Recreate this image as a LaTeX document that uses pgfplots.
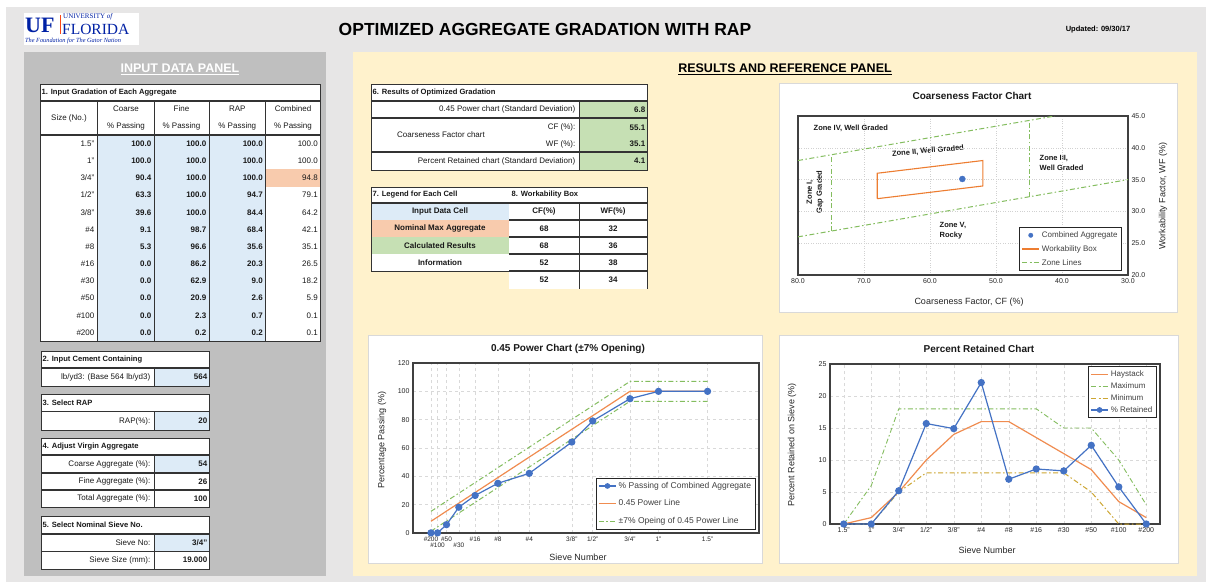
\documentclass[border=0pt]{standalone}
\usepackage{fontspec}
\setmainfont{Liberation Sans}
\newfontfamily\serifuf{Liberation Serif}
\usepackage{pgfplots}
\pgfplotsset{compat=1.18}

\definecolor{pagegray}{HTML}{E7E6E6}
\definecolor{panelgray}{HTML}{BFBFBF}
\definecolor{panelyellow}{HTML}{FFF2CC}
\definecolor{cellblue}{HTML}{DDEBF7}
\definecolor{cellorange}{HTML}{F8CBAD}
\definecolor{cellgreen}{HTML}{C6E0B4}
\definecolor{xlblue}{HTML}{4472C4}
\definecolor{xlorange}{HTML}{ED7D31}
\definecolor{lineorange}{HTML}{F08C50}
\definecolor{xlgreen}{HTML}{84BD5F}
\definecolor{xlgold}{HTML}{CDA632}
\definecolor{ufblue}{HTML}{0021A5}
\definecolor{uforange}{HTML}{FA4616}
\definecolor{framegray}{HTML}{D9D9D9}

\tikzset{
  tx/.style={inner sep=0.5pt, text=black!90, font=\fontsize{8}{9.5}\selectfont},
  tb/.style={tx, font=\fontsize{8}{9.5}\selectfont\bfseries},
  th/.style={tx, font=\fontsize{7.6}{9}\selectfont\bfseries},
  ln/.style={line width=0.7pt, black!80},
  thk/.style={line width=1.3pt, black!80},
  zone/.style={draw=xlgreen, color=xlgreen, line width=1pt, dash pattern=on 5pt off 2.5pt on 1.5pt off 2.5pt},
  zl/.style={inner sep=0.5pt, font=\fontsize{7.5}{10}\selectfont\bfseries, text=black!90},
  lab/.style={inner sep=0.5pt, font=\fontsize{9}{10}\selectfont, text=black!85},
  ttl/.style={inner sep=0.5pt, font=\fontsize{10}{12}\selectfont\bfseries, text=black!90},
}

\pgfplotsset{
  xlchart/.style={
    scale only axis, anchor=south west,
    axis line style={black!75, line width=1.3pt},
    major tick length=0pt,
    tick style={draw=none},
    ticklabel style={font=\fontsize{7}{8}\selectfont, text=black!85},
    /pgf/number format/assume math mode=true,
    grid=major,
    major grid style={black!15, dashed, line width=0.4pt},
    legend style={font=\fontsize{8}{9}\selectfont, draw=black!85, line width=1pt,
      cells={anchor=west}, inner sep=2pt, text=black!75},
  },
  orangeleg/.style={legend image code/.code={%
    \draw[draw=lineorange, line width=1.5pt, solid] (0cm,0cm) -- (0.6cm,0cm);}},
}

\begin{document}
\begin{tikzpicture}[x=1pt,y=1pt]
\path[use as bounding box] (0,0) rectangle (1206pt,-582pt);

\begin{scope}[yscale=-1]
% page and panels
\fill[white] (0,0) rectangle (1206,582);
\fill[pagegray] (6,7) rectangle (1206,582);
\fill[panelgray] (24,52) rectangle (326,576);
\fill[panelyellow] (353,52) rectangle (1197,576);

% header
\fill[white] (24,13) rectangle (139,45);
\node[anchor=west, inner sep=0, text=ufblue, font=\serifuf\bfseries\fontsize{22}{22}\selectfont] at (25,25.5) {UF};
\draw[uforange, line width=1pt] (60,15) -- (60,34);
\node[anchor=west, inner sep=0, text=ufblue, font=\serifuf\fontsize{7}{7}\selectfont] at (63,17) {UNIVERSITY \textit{of}};
\node[anchor=west, inner sep=0, text=ufblue, font=\serifuf\fontsize{15.5}{15.5}\selectfont] at (62,29) {FLORIDA};
\node[anchor=west, inner sep=0, text=ufblue, font=\serifuf\itshape\fontsize{6.3}{7}\selectfont] at (25,41) {The Foundation for The Gator Nation};
\node[inner sep=0, font=\bfseries\fontsize{17.5}{18}\selectfont] at (545,29) {OPTIMIZED AGGREGATE GRADATION WITH RAP};
\node[inner sep=0, font=\bfseries\fontsize{7.5}{8}\selectfont] at (1098,30) {Updated: 09/30/17};

\node[inner sep=0, text=white, font=\bfseries\fontsize{12.5}{13}\selectfont] at (180,69) {\underline{INPUT DATA PANEL}};
\node[inner sep=0, font=\bfseries\fontsize{12.5}{13}\selectfont] at (785,69) {\underline{RESULTS AND REFERENCE PANEL}};

% table 1
\fill[white] (40,84) rectangle (320,341);
\fill[cellblue] (97.7,135) rectangle (265.7,341);
\fill[cellorange] (265.7,169.3) rectangle (320,186.5);
\draw[ln] (40,84) rectangle (320,341);
\draw[thk] (40,101) -- (320,101);
\draw[thk] (40,135) -- (320,135);
\foreach \x in {97.7,154,209,265.7} \draw[ln] (\x,101) -- (\x,341);
\node[th, anchor=west] at (41,92.5) {1. Input Gradation of Each Aggregate};
\node[tx] at (69,118) {Size (No.)};
\foreach \x/\h in {126/Coarse, 181.5/Fine, 237.3/RAP, 293/Combined} {
  \node[tx] at (\x,108.5) {\h};
  \node[tx] at (\x,126) {\% Passing};
}
\foreach \s/\c/\f/\r/\m [count=\i from 0] in {
  {1.5"}/100.0/100.0/100.0/100.0,
  {1"}/100.0/100.0/100.0/100.0,
  {3/4"}/90.4/100.0/100.0/94.8,
  {1/2"}/63.3/100.0/94.7/79.1,
  {3/8"}/39.6/100.0/84.4/64.2,
  {\#4}/9.1/98.7/68.4/42.1,
  {\#8}/5.3/96.6/35.6/35.1,
  {\#16}/0.0/86.2/20.3/26.5,
  {\#30}/0.0/62.9/9.0/18.2,
  {\#50}/0.0/20.9/2.6/5.9,
  {\#100}/0.0/2.3/0.7/0.1,
  {\#200}/0.0/0.2/0.2/0.1} {
  \pgfmathsetmacro\y{143.6+\i*17.17}
  \node[tx, anchor=east] at (95,\y) {\s};
  \node[tb, anchor=east] at (152,\y) {\c};
  \node[tb, anchor=east] at (207,\y) {\f};
  \node[tb, anchor=east] at (263.5,\y) {\r};
  \node[tx, anchor=east] at (318.5,\y) {\m};
}

% table 2
\fill[white] (41,351) rectangle (209,386);
\fill[cellblue] (154,368) rectangle (209,386);
\draw[ln] (41,351) rectangle (209,386);
\draw[thk] (41,368) -- (209,368);
\draw[ln] (154,368) -- (154,386);
\node[th, anchor=west] at (42,359.5) {2. Input Cement Containing};
\node[tx, anchor=east] at (151,377) {lb/yd3: (Base 564 lb/yd3)};
\node[tb, anchor=east] at (208,377) {564};

% table 3
\fill[white] (41,394) rectangle (209,430);
\fill[cellblue] (154,411.5) rectangle (209,430);
\draw[ln] (41,394) rectangle (209,430);
\draw[thk] (41,411.5) -- (209,411.5);
\draw[ln] (154,411.5) -- (154,430);
\node[th, anchor=west] at (42,403) {3. Select RAP};
\node[tx, anchor=east] at (151,421) {RAP(\%):};
\node[tb, anchor=east] at (208,421) {20};

% table 4
\fill[white] (41,438) rectangle (209,507);
\fill[cellblue] (154,455) rectangle (209,473);
\draw[ln] (41,438) rectangle (209,507);
\draw[thk] (41,455) -- (209,455);
\draw[thk] (41,473) -- (209,473);
\draw[thk] (41,490) -- (209,490);
\draw[ln] (154,455) -- (154,507);
\node[th, anchor=west] at (42,446.5) {4. Adjust Virgin Aggregate};
\node[tx, anchor=east] at (151,464) {Coarse Aggregate (\%):};
\node[tb, anchor=east] at (208,464) {54};
\node[tx, anchor=east] at (151,481.5) {Fine Aggregate (\%):};
\node[tb, anchor=east] at (208,481.5) {26};
\node[tx, anchor=east] at (151,498.5) {Total Aggregate (\%):};
\node[tb, anchor=east] at (208,498.5) {100};

% table 5
\fill[white] (41,516) rectangle (209,569);
\fill[cellblue] (154,534) rectangle (209,551.5);
\draw[ln] (41,516) rectangle (209,569);
\draw[thk] (41,534) -- (209,534);
\draw[thk] (41,551.5) -- (209,551.5);
\draw[ln] (154,534) -- (154,569);
\node[th, anchor=west] at (42,525) {5. Select Nominal Sieve No.};
\node[tx, anchor=east] at (151,542.7) {Sieve No:};
\node[tb, anchor=east] at (208,542.7) {3/4"};
\node[tx, anchor=east] at (151,560) {Sieve Size (mm):};
\node[tb, anchor=east] at (208,560) {19.000};

% table 6
\fill[white] (371,84) rectangle (647,170);
\fill[cellgreen] (579,101) rectangle (647,170);
\draw[ln] (371,84) rectangle (647,170);
\draw[thk] (371,101) -- (647,101);
\draw[thk] (371,118) -- (647,118);
\draw[thk] (371,152) -- (647,152);
\draw[ln] (579,101) -- (579,170);
\node[th, anchor=west] at (372,92.5) {6. Results of Optimized Gradation};
\node[tx, anchor=east] at (576,109.5) {0.45 Power chart (Standard Deviation)};
\node[tb, anchor=east] at (646,110) {6.8};
\node[tx] at (441,135) {Coarseness Factor chart};
\node[tx, anchor=east] at (576,127.5) {CF (\%):};
\node[tb, anchor=east] at (646,127.5) {55.1};
\node[tx, anchor=east] at (576,144) {WF (\%):};
\node[tb, anchor=east] at (646,144) {35.1};
\node[tx, anchor=east] at (576,161) {Percent Retained chart (Standard Deviation)};
\node[tb, anchor=east] at (646,161) {4.1};

% tables 7 and 8
\fill[white] (371,187) rectangle (647,271);
\fill[white] (509,271) rectangle (647,289);
\fill[cellblue] (371,203) rectangle (509,220);
\fill[cellorange] (371,220) rectangle (509,237);
\fill[cellgreen] (371,237) rectangle (509,254);
\draw[ln] (371,187) rectangle (647,271);
\draw[thk] (371,203) -- (647,203);
\foreach \y in {220,237,254,271} \draw[thk] (509,\y) -- (647,\y);
\draw[ln] (579,203) -- (579,289);
\draw[ln] (647,271) -- (647,289);
\node[th, anchor=west] at (372,195) {7. Legend for Each Cell};
\node[th, anchor=west] at (511,195) {8. Workability Box};
\node[tb] at (440,211.5) {Input Data Cell};
\node[tb] at (440,228.5) {Nominal Max Aggregate};
\node[tb] at (440,245.5) {Calculated Results};
\node[tb] at (440,262.5) {Information};
\node[tb] at (544,211.5) {CF(\%)};
\node[tb] at (613,211.5) {WF(\%)};
\foreach \c/\w [count=\i from 0] in {68/32, 68/36, 52/38, 52/34} {
  \pgfmathsetmacro\y{228.5+\i*17.2}
  \node[tb] at (544,\y) {\c};
  \node[tb] at (613,\y) {\w};
}

% chart panels
\filldraw[fill=white, draw=framegray] (779,83) rectangle (1177,312);
\filldraw[fill=white, draw=framegray] (368,335) rectangle (762,563);
\filldraw[fill=white, draw=framegray] (779,335) rectangle (1178,563);

% chart texts
\node[ttl] at (972,96) {Coarseness Factor Chart};
\node[lab] at (969,302) {Coarseness Factor, CF (\%)};
\node[lab, rotate=90] at (1163,196) {Workability Factor, WF (\%)};
\node[zl, anchor=west] at (813,128) {Zone IV, Well Graded};
\node[zl, rotate=5] at (928,151) {Zone II, Well Graded};
\node[zl, anchor=west, align=left] at (1039,163) {Zone III,\\Well Graded};
\node[zl, rotate=90, align=center] at (815,192) {Zone I,\\Gap Graded};
\node[zl, anchor=west, align=left] at (939,231) {Zone V,\\Rocky};

\node[ttl] at (568,349) {0.45 Power Chart (±7\% Opening)};
\node[lab, rotate=90] at (382,440) {Percentage Passing (\%)};
\node[lab] at (578,557) {Sieve Number};

\node[ttl] at (979,349) {Percent Retained Chart};
\node[lab, rotate=90] at (792,445) {Percent Retained on Sieve (\%)};
\node[lab] at (987,550) {Sieve Number};
\end{scope}

% coarseness factor chart
\begin{axis}[xlchart,
  at={(798pt,-275pt)}, width=330pt, height=159pt,
  x dir=reverse, xmin=30, xmax=80, ymin=20, ymax=45,
  xtick={30,40,...,80}, ytick={20,25,...,45},
  yticklabel pos=right,
  xticklabel style={/pgf/number format/.cd, fixed, fixed zerofill, precision=1},
  yticklabel style={/pgf/number format/.cd, fixed, fixed zerofill, precision=1},
  major grid style={black!18, dotted, line width=0.5pt},
  legend style={at={(0.982,0.025)}, anchor=south east, row sep=2.5pt},
]
\addplot[zone, forget plot] coordinates {(80,38) (41.1,45)};
\addplot[zone, forget plot] coordinates {(80,26) (30,35)};
\addplot[zone, forget plot] coordinates {(75,26.9) (75,38.9)};
\addplot[zone, forget plot] coordinates {(45,32.3) (45,44.3)};
\addplot[draw=xlorange, line width=1.1pt, forget plot] coordinates {(68,32) (68,36) (52,38) (52,34) (68,32)};
\addplot[only marks, mark=*, mark size=3pt, xlblue, forget plot] coordinates {(55.1,35.1)};
\addlegendimage{only marks, mark=*, mark size=2.2pt, xlblue, line width=0.4pt}
\addlegendentry{Combined Aggregate}
\addlegendimage{draw=xlorange, color=xlorange, line width=1.3pt}
\addlegendentry{Workability Box}
\addlegendimage{zone}
\addlegendentry{Zone Lines}
\end{axis}

% 0.45 power chart
\begin{axis}[xlchart,
  at={(413pt,-533pt)}, width=346pt, height=170pt,
  xmin=0, xmax=6, ymin=0, ymax=120, ytick={0,20,...,120},
  xtick={0.3117,0.4259,0.5817,0.7946,1.0773,1.4717,2.016,2.754,3.116,3.762,4.257,5.108},
  xticklabels={\#200,{\mbox{}\\\#100},\#50,{\mbox{}\\\#30},\#16,\#8,\#4,3/8",1/2",3/4",1",1.5"},
  xticklabel style={align=center, font=\fontsize{6.5}{10.5}\selectfont},
  legend style={at={(0.99,0.02)}, anchor=south east, row sep=6pt, font=\fontsize{8.5}{9}\selectfont},
]
\addplot[zone, forget plot] coordinates {(0.3117,15.3) (0.4259,18.3) (0.5817,22.5) (0.7946,28.1) (1.0773,35.6) (1.4717,46.1) (2.016,60.6) (2.754,80.2) (3.116,89.8) (3.762,107) (4.257,107) (5.108,107)};
\addplot[zone, forget plot] coordinates {(0.3117,1.3) (0.4259,4.3) (0.5817,8.5) (0.7946,14.1) (1.0773,21.6) (1.4717,32.1) (2.016,46.6) (2.754,66.2) (3.116,75.8) (3.762,93) (4.257,93) (5.108,93)};
\addplot[draw=lineorange, line width=1.2pt, forget plot] coordinates {(0.3117,8.3) (0.4259,11.3) (0.5817,15.5) (0.7946,21.1) (1.0773,28.6) (1.4717,39.1) (2.016,53.6) (2.754,73.2) (3.116,82.8) (3.762,100) (4.257,100) (5.108,100)};
\addplot[xlblue, line width=1.2pt, mark=*, mark size=3pt, forget plot] coordinates {(0.3117,0.1) (0.4259,0.1) (0.5817,5.9) (0.7946,18.2) (1.0773,26.5) (1.4717,35.1) (2.016,42.1) (2.754,64.2) (3.116,79.1) (3.762,94.8) (4.257,100) (5.108,100)};
\addlegendimage{xlblue, line width=1.2pt, mark=*, mark size=2.2pt}
\addlegendentry{\% Passing of Combined Aggregate}
\addlegendimage{orangeleg}
\addlegendentry{0.45 Power Line}
\addlegendimage{zone}
\addlegendentry{±7\% Opeing of 0.45 Power Line}
\end{axis}

% percent retained chart
\begin{axis}[xlchart,
  at={(830pt,-524pt)}, width=330pt, height=160pt,
  xmin=-0.5, xmax=11.5, ymin=0, ymax=25, ytick={0,5,...,25},
  xtick={0,...,11},
  xticklabels={1.5",1",3/4",1/2",3/8",\#4,\#8,\#16,\#30,\#50,\#100,\#200},
  legend style={at={(0.99,0.985)}, anchor=north east, row sep=0.5pt},
]
\addplot[zone, line width=0.9pt, forget plot] coordinates {(0,0) (1,6) (2,18) (3,18) (4,18) (5,18) (6,18) (7,18) (8,15) (9,15) (10,10) (11,3)};
\addplot[draw=xlgold, line width=1pt, dash pattern=on 5pt off 2.5pt on 1.5pt off 2.5pt, forget plot] coordinates {(0,0) (1,0) (2,5) (3,8) (4,8) (5,8) (6,8) (7,8) (8,8) (9,5) (10,0) (11,0)};
\addplot[draw=lineorange, line width=1.2pt, forget plot] coordinates {(0,0) (1,1) (2,5) (3,10) (4,14) (5,16) (6,16) (7,13.5) (8,11) (9,8.5) (10,3.5) (11,1)};
\addplot[xlblue, line width=1.2pt, mark=*, mark size=3pt, forget plot] coordinates {(0,0) (1,0) (2,5.2) (3,15.7) (4,14.9) (5,22.1) (6,7.0) (7,8.6) (8,8.3) (9,12.3) (10,5.8) (11,0)};
\addlegendimage{orangeleg}
\addlegendentry{Haystack}
\addlegendimage{zone, line width=0.9pt}
\addlegendentry{Maximum}
\addlegendimage{draw=xlgold, color=xlgold, line width=1pt, dash pattern=on 5pt off 2.5pt on 1.5pt off 2.5pt}
\addlegendentry{Minimum}
\addlegendimage{xlblue, line width=1.2pt, mark=*, mark size=2.2pt}
\addlegendentry{\% Retained}
\end{axis}
\end{tikzpicture}
\end{document}
